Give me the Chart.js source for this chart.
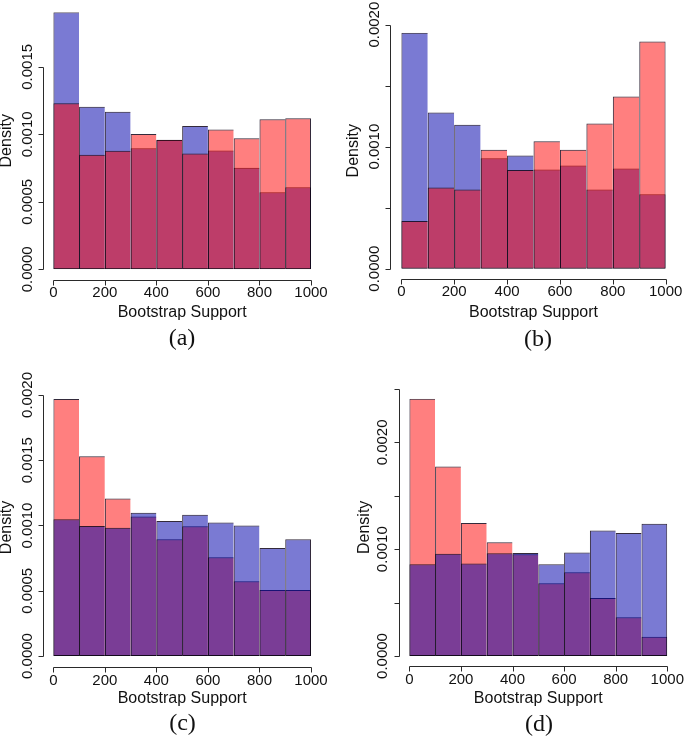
<!DOCTYPE html>
<html>
<head>
<meta charset="utf-8">
<script src="https://cdn.jsdelivr.net/npm/chart.js@4.4.1/dist/chart.umd.min.js"></script>
<style>
  body { margin: 0; background: #fff; }
  #wrap { position: relative; width: 685px; height: 740px; }
  #wrap canvas { position: absolute; left: 0; top: 0; }
</style>
</head>
<body>
<div id="wrap">
  <canvas id="chartA" width="685" height="740"></canvas>
  <canvas id="chartB" width="685" height="740"></canvas>
  <canvas id="chartC" width="685" height="740"></canvas>
  <canvas id="chartD" width="685" height="740"></canvas>
</div>
<script>
// bin midpoints (bins are 100 wide, 0..1000)
const bins = [50, 150, 250, 350, 450, 550, 650, 750, 850, 950];
const xTicks = [0, 200, 400, 600, 800, 1000];
const xLabels = ["0", "200", "400", "600", "800", "1000"];

// (a)
const redA = [0.00123, 0.000849, 0.000879, 0.001002, 0.00096, 0.000857, 0.001035, 0.00097, 0.001111, 0.001119];
const blueA = [0.001904, 0.001205, 0.001168, 0.000896, 0.000958, 0.001062, 0.000881, 0.000753, 0.00057, 0.000607];
const yTicksA = [0, 0.0005, 0.001, 0.0015];
const yLabelsA = ["0.0000", "0.0005", "0.0010", "0.0015"];

// (b)
const redB = [0.00039, 0.000666, 0.000649, 0.000974, 0.000808, 0.001045, 0.000974, 0.00119, 0.001411, 0.001861];
const blueB = [0.001934, 0.00128, 0.001179, 0.000906, 0.000928, 0.000813, 0.000846, 0.000649, 0.000821, 0.000611];
const yTicksB = [0, 0.0005, 0.001, 0.0015, 0.002];
const yLabelsB = ["0.0000", "", "0.0010", "", "0.0020"];

// (c)
const redC = [0.001969, 0.00153, 0.001206, 0.001068, 0.000894, 0.000994, 0.000756, 0.000572, 0.000506, 0.000506];
const blueC = [0.001047, 0.000996, 0.000983, 0.001098, 0.001034, 0.001083, 0.001022, 0.000999, 0.000828, 0.000894];
const yTicksC = [0, 0.0005, 0.001, 0.0015, 0.002];
const yLabelsC = ["0.0000", "0.0005", "0.0010", "0.0015", "0.0020"];

// (d)
const redD = [0.002409, 0.001775, 0.001245, 0.001064, 0.000952, 0.00068, 0.000783, 0.000543, 0.000362, 0.000181];
const blueD = [0.000858, 0.000958, 0.000867, 0.000961, 0.000964, 0.000858, 0.00097, 0.001176, 0.001151, 0.001239];
const yTicksD = [0, 0.0005, 0.001, 0.0015, 0.002, 0.0025];
const yLabelsD = ["0.0000", "", "0.0010", "", "0.0020", ""];

const W = 685, H = 740;
const SANS = "'Liberation Sans', Arial, sans-serif";
const SERIF = "'Liberation Serif', 'Times New Roman', serif";

// R-style detached axes, drawn from the chart's own scales
const rAxes = {
  id: "rAxes",
  afterDraw(chart, args, o) {
    const ctx = chart.ctx, xs = chart.scales.x, ys = chart.scales.y;
    const a = chart.chartArea;
    const r = v => Math.round(v) + 0.5;
    ctx.save();
    ctx.strokeStyle = "#2a2a2a";
    ctx.lineWidth = 1;
    ctx.beginPath();
    // x axis
    const xy = r(o.xAxisY);
    ctx.moveTo(r(xs.getPixelForValue(o.xTicks[0])), xy);
    ctx.lineTo(r(xs.getPixelForValue(o.xTicks[o.xTicks.length - 1])), xy);
    o.xTicks.forEach(v => {
      const px = r(xs.getPixelForValue(v));
      ctx.moveTo(px, xy);
      ctx.lineTo(px, xy + 5);
    });
    // y axis
    const yx = r(o.yAxisX);
    ctx.moveTo(yx, r(ys.getPixelForValue(o.yTicks[0])));
    ctx.lineTo(yx, r(ys.getPixelForValue(o.yTicks[o.yTicks.length - 1])));
    o.yTicks.forEach(v => {
      const py = r(ys.getPixelForValue(v));
      ctx.moveTo(yx, py);
      ctx.lineTo(yx - 5, py);
    });
    ctx.stroke();

    ctx.fillStyle = "#111";
    ctx.textAlign = "center";
    ctx.textBaseline = "middle";
    ctx.font = "15px " + SANS;
    o.xTicks.forEach((v, i) => {
      ctx.fillText(o.xLabels[i], xs.getPixelForValue(v), o.xLabY);
    });
    o.yTicks.forEach((v, i) => {
      if (!o.yLabels[i]) return;
      ctx.save();
      ctx.translate(o.yLabX, ys.getPixelForValue(v));
      ctx.rotate(-Math.PI / 2);
      ctx.fillText(o.yLabels[i], 0, 0);
      ctx.restore();
    });
    ctx.font = "16px " + SANS;
    ctx.fillText("Bootstrap Support", (a.left + a.right) / 2, o.titleY);
    ctx.save();
    ctx.translate(o.densX, (a.top + a.bottom) / 2);
    ctx.rotate(-Math.PI / 2);
    ctx.fillText("Density", 0, 0);
    ctx.restore();
    ctx.font = "24px " + SERIF;
    ctx.fillText(o.caption, o.capX, o.capY);
    ctx.restore();
  }
};

function makePanel(id, red, blue, yTicks, yLabels, redOnTop, g) {
  const last = bins.length - 1;
  const edge = c => ({ top: 1, left: 1, bottom: 1, right: c.dataIndex === last ? 1 : 0 });
  new Chart(document.getElementById(id), {
    type: "bar",
    data: {
      datasets: [
        {
          label: "red",
          data: bins.map((x, i) => ({ x: x, y: red[i] })),
          backgroundColor: "rgba(255, 0, 0, 0.5)",
          order: redOnTop ? 0 : 1,
        },
        {
          label: "blue",
          data: bins.map((x, i) => ({ x: x, y: blue[i] })),
          backgroundColor: "rgba(0, 0, 170, 0.52)",
          order: redOnTop ? 1 : 0,
        },
      ],
    },
    options: {
      responsive: false,
      animation: false,
      events: [],
      layout: {
        padding: { left: g.left, right: W - g.right, top: g.top, bottom: H - g.bottom },
      },
      datasets: {
        bar: {
          barPercentage: 1,
          categoryPercentage: 1,
          grouped: false,
          borderSkipped: false,
          borderColor: "rgba(15, 5, 25, 0.85)",
          borderWidth: edge,
          inflateAmount: 0,
        },
      },
      scales: {
        x: { type: "linear", display: false, min: 0, max: 1000, offset: false },
        y: { display: false, min: 0, max: Math.max(...red, ...blue) },
      },
      plugins: {
        legend: { display: false },
        tooltip: { enabled: false },
        rAxes: Object.assign({ xTicks: xTicks, xLabels: xLabels, yTicks: yTicks, yLabels: yLabels }, g),
      },
    },
    plugins: [rAxes],
  });
}

makePanel("chartA", redA, blueA, yTicksA, yLabelsA, true, {
  left: 53.3, right: 311, top: 12.3, bottom: 269.3,
  yAxisX: 43.3, yLabX: 27.5, densX: 7,
  xAxisY: 280, xLabY: 293, titleY: 313,
  caption: "(a)", capX: 182, capY: 339,
});
makePanel("chartB", redB, blueB, yTicksB, yLabelsB, true, {
  left: 401.3, right: 665.7, top: 32.7, bottom: 268.7,
  yAxisX: 390, yLabX: 375, densX: 353.7,
  xAxisY: 279, xLabY: 291.7, titleY: 312.5,
  caption: "(b)", capX: 538, capY: 340,
});
makePanel("chartC", redC, blueC, yTicksC, yLabelsC, false, {
  left: 53.3, right: 311, top: 399, bottom: 656,
  yAxisX: 43.3, yLabX: 27.5, densX: 7,
  xAxisY: 666.7, xLabY: 681, titleY: 699,
  caption: "(c)", capX: 182.5, capY: 724,
});
makePanel("chartD", redD, blueD, yTicksD, yLabelsD, false, {
  left: 409.3, right: 667.3, top: 398.7, bottom: 656,
  yAxisX: 399.3, yLabX: 382.5, densX: 364.5,
  xAxisY: 666, xLabY: 680, titleY: 699,
  caption: "(d)", capX: 539, capY: 725,
});
</script>
</body>
</html>
